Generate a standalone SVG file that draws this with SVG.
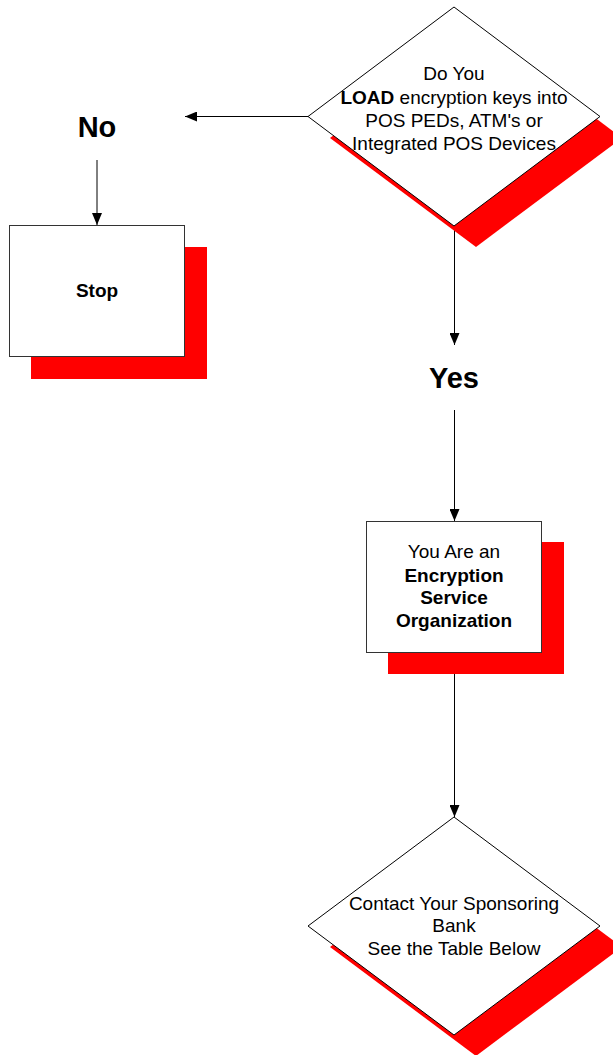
<svg xmlns="http://www.w3.org/2000/svg" width="613" height="1055" viewBox="0 0 613 1055">
<defs>
<marker id="ah" markerWidth="12" markerHeight="10" refX="12" refY="5" orient="auto" markerUnits="userSpaceOnUse">
<path d="M0,0 L12,5 L0,10 Z" fill="#000"/>
</marker>
</defs>
<style>
.shadow{fill:#ff0000;stroke:none}
.shape{fill:#fff;stroke:#000;stroke-width:1}
.box{fill:#fff;stroke:#333;stroke-width:1}
.t{font-family:"Liberation Sans",Arial,sans-serif;font-size:19px;fill:#000;text-anchor:middle}
.b{font-weight:bold}
.lab{font-family:"Liberation Sans",Arial,sans-serif;font-size:29px;font-weight:bold;fill:#000;text-anchor:middle}
.conn{stroke:#000;stroke-width:1;fill:none}
</style>
<rect width="613" height="1055" fill="#fff"/>
<g id="connectors">
<line class="conn" x1="308" y1="116.5" x2="185" y2="116.5" marker-end="url(#ah)"/>
<line class="conn" x1="97" y1="160" x2="97" y2="225" marker-end="url(#ah)"/>
<line class="conn" x1="454.5" y1="226" x2="454.5" y2="345" marker-end="url(#ah)"/>
<line class="conn" x1="454.5" y1="410" x2="454.5" y2="521" marker-end="url(#ah)"/>
<line class="conn" x1="454.5" y1="652" x2="454.5" y2="817" marker-end="url(#ah)"/>
</g>
<g id="decision1">
<polygon class="shadow" points="476,28 622,138 476,247 330,138"/>
<polygon class="shape" points="454,7 600,116.5 454,226 308,116.5"/>
<text class="t" x="454" y="80">Do You</text>
<text class="t" x="454" y="104"><tspan class="b">LOAD</tspan> encryption keys into</text>
<text class="t" x="454" y="127">POS PEDs, ATM's or</text>
<text class="t" x="454" y="150">Integrated POS Devices</text>
</g>
<g id="label-no">
<text class="lab" x="97" y="137">No</text>
</g>
<g id="stop">
<rect class="shadow" x="31" y="247" width="176" height="132"/>
<rect class="box" x="9.5" y="225.5" width="175" height="131"/>
<text class="t b" x="97" y="297">Stop</text>
</g>
<g id="label-yes">
<text class="lab" x="454" y="388">Yes</text>
</g>
<g id="eso">
<rect class="shadow" x="388" y="542" width="176" height="132"/>
<rect class="box" x="366.5" y="521.5" width="175" height="131"/>
<text class="t" x="454" y="558">You Are an</text>
<text class="t b" x="454" y="582">Encryption</text>
<text class="t b" x="454" y="604">Service</text>
<text class="t b" x="454" y="627">Organization</text>
</g>
<g id="decision2">
<polygon class="shadow" points="476,838 622,947 476,1056 330,947"/>
<polygon class="shape" points="454,817 600,926 454,1035 308,926"/>
<text class="t" x="454" y="910">Contact Your Sponsoring</text>
<text class="t" x="454" y="932">Bank</text>
<text class="t" x="454" y="955">See the Table Below</text>
</g>
</svg>
